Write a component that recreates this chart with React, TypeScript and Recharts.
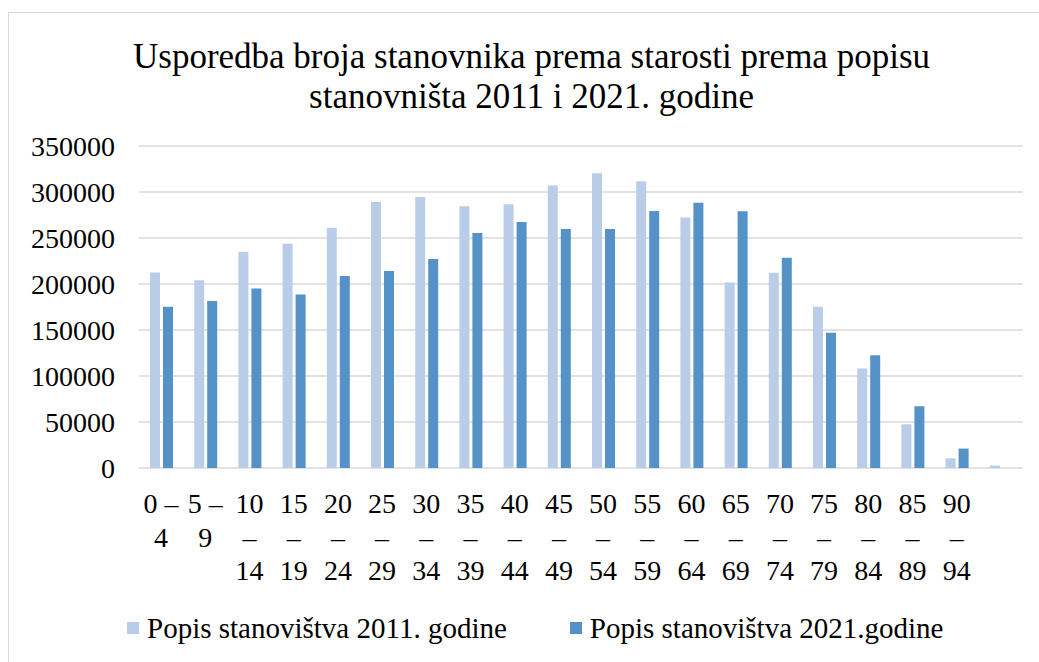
import { Bar, BarChart, CartesianGrid, XAxis, YAxis } from "recharts";

const ageGroups = [
  "0 – 4", "5 – 9", "10 – 14", "15 – 19", "20 – 24", "25 – 29", "30 – 34",
  "35 – 39", "40 – 44", "45 – 49", "50 – 54", "55 – 59", "60 – 64", "65 – 69",
  "70 – 74", "75 – 79", "80 – 84", "85 – 89", "90 – 94", "",
];

const popis2011 = [
  212600, 204200, 235000, 243700, 261100, 289100, 294500, 284400, 286600, 307200,
  320300, 311600, 272400, 201700, 212200, 175200, 108100, 47500, 10500, 2600,
];

const popis2021 = [
  175200, 181400, 195200, 188600, 208600, 214000, 227100, 255300, 267300, 259700,
  259700, 279300, 288300, 279000, 228500, 146900, 122600, 67100, 21100, null,
];

const yTicks = [0, 50000, 100000, 150000, 200000, 250000, 300000, 350000];

const series = [
  { key: "p2011", name: "Popis stanovištva 2011. godine", color: "#b9cde8" },
  { key: "p2021", name: "Popis stanovištva 2021.godine", color: "#5592c7" },
];

const FONT = "'Liberation Serif', 'Times New Roman', serif";

const data = ageGroups.map((g, i) => ({
  age: g,
  p2011: popis2011[i],
  p2021: popis2021[i],
}));

// Excel wraps the labels: "0 –" / "4" and "10" / "–" / "14"
function splitLabel(label: string): string[] {
  if (!label) return [];
  const [a, b] = label.split(" – ");
  return a.length === 1 ? [`${a} –`, b] : [a, "–", b];
}

function AgeTick(props: any) {
  const { x, y, payload } = props;
  const lines = splitLabel(payload.value);
  return (
    <text textAnchor="middle" fontFamily={FONT} fontSize={28} fill="#000">
      {lines.map((l, i) => (
        <tspan key={i} x={x} y={y + 45 + i * 33.5}>
          {l}
        </tspan>
      ))}
    </text>
  );
}

export default function App() {
  return (
    <div
      style={{
        position: "fixed",
        left: 8,
        top: 12,
        width: 1040,
        height: 660,
        border: "1px solid #d9d9d9",
        boxSizing: "border-box",
        background: "#fff",
      }}
    >
      <div
        style={{
          position: "absolute",
          top: 24,
          left: 0,
          width: 1045,
          textAlign: "center",
          fontFamily: FONT,
          fontSize: 35,
          lineHeight: "40px",
          color: "#000",
        }}
      >
        Usporedba broja stanovnika prema starosti prema popisu
        <br />
        stanovništa 2011 i 2021. godine
      </div>
      <div style={{ position: "absolute", top: 0, left: 0 }}>
        <BarChart
          width={1031}
          height={600}
          data={data}
          margin={{ top: 133, right: 17, left: 30, bottom: 15 }}
          barSize={10}
          barGap={3}
        >
          <CartesianGrid vertical={false} stroke="#d9d9d9" strokeWidth={1.5} />
          <XAxis
            dataKey="age"
            height={130}
            axisLine={false}
            tickLine={false}
            tickSize={0}
            tickMargin={0}
            interval={0}
            tick={<AgeTick />}
          />
          <YAxis
            width={100}
            domain={[0, 350000]}
            ticks={yTicks}
            axisLine={false}
            tickLine={false}
            tickMargin={18}
            tick={{ fontFamily: FONT, fontSize: 28, fill: "#000" }}
          />
          {series.map(s => (
            <Bar
              key={s.key}
              dataKey={s.key}
              name={s.name}
              fill={s.color}
              isAnimationActive={false}
            />
          ))}
        </BarChart>
      </div>
      <div
        style={{
          position: "absolute",
          top: 597,
          left: 118,
          display: "flex",
          alignItems: "center",
          fontFamily: FONT,
          fontSize: 29,
          lineHeight: "36px",
          color: "#000",
        }}
      >
        {series.map((s, i) => (
          <div
            key={s.key}
            style={{ display: "flex", alignItems: "center", marginLeft: i ? 63 : 0 }}
          >
            <span
              style={{ width: 12, height: 12, background: s.color, marginRight: 8 }}
            />
            {s.name}
          </div>
        ))}
      </div>
    </div>
  );
}
